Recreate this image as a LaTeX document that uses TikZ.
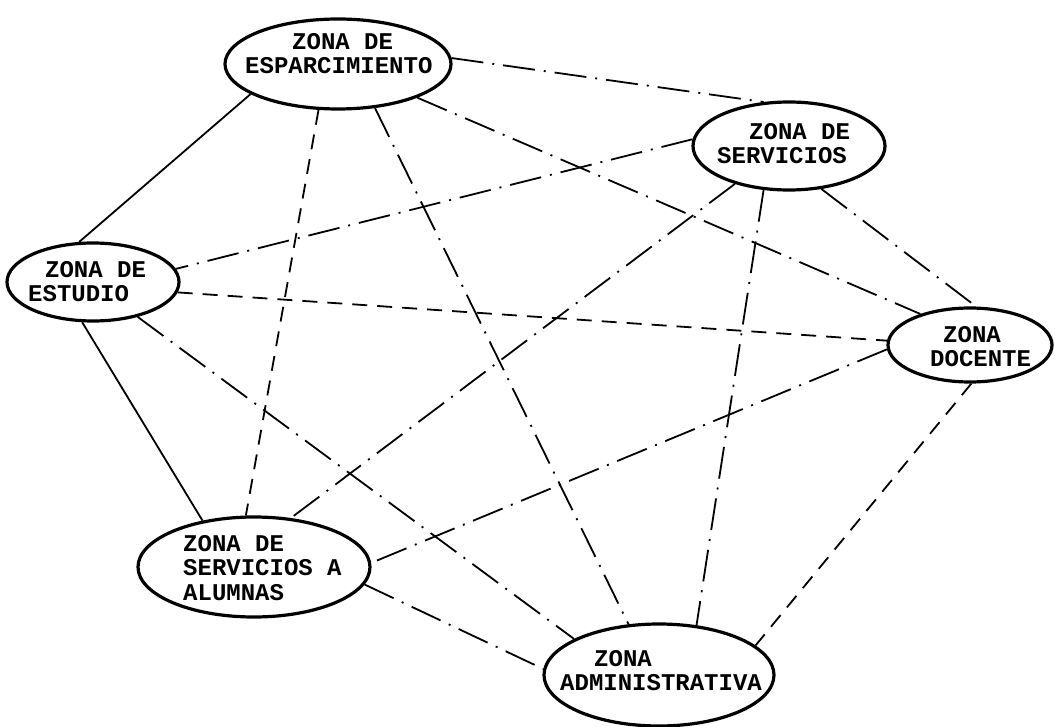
\documentclass[tikz,border=0pt]{standalone}
\usepackage{fontspec}
\setmonofont{Liberation Mono}
\usetikzlibrary{shapes.geometric}
\begin{document}
\begin{tikzpicture}[x=1pt,y=-1pt,
  zone/.style={draw, ellipse, line width=3.2pt, inner sep=0pt},
  lbl/.style={anchor=north west, inner sep=0pt, align=left,
    font=\ttfamily\bfseries\fontsize{24}{24.6}\selectfont},
  solidline/.style={line width=1.8pt},
  dashdot/.style={line width=1.8pt, dash pattern=on 32pt off 9pt on 2pt off 9pt},
  dashline/.style={line width=1.8pt, dash pattern=on 15pt off 10pt}]
\fill[white] (0,0) rectangle (1055,727);
\useasboundingbox (0,0) rectangle (1055,727);

% zones
\node[zone, minimum width=226pt, minimum height=90pt] (esp) at (338,64) {};
\node[zone, minimum width=192pt, minimum height=88pt] (ser) at (789,146) {};
\node[zone, minimum width=172pt, minimum height=78pt] (est) at (93,282) {};
\node[zone, minimum width=164pt, minimum height=74pt] (doc) at (970,345) {};
\node[zone, minimum width=232pt, minimum height=100pt] (alu) at (254,567) {};
\node[zone, minimum width=230pt, minimum height=102pt] (adm) at (659,675) {};

% labels
\node[lbl] (esp-t) at (245,33) {\hspace*{47pt}ZONA DE\\ESPARCIMIENTO};
\node[lbl] (ser-t) at (717,123) {\hspace*{32pt}ZONA DE\\SERVICIOS};
\node[lbl] (est-t) at (28,261) {\hspace*{17pt}ZONA DE\\ESTUDIO};
\node[lbl] (doc-t) at (930,326) {\hspace*{13pt}ZONA\\DOCENTE};
\node[lbl] (alu-t) at (183,535) {ZONA DE\\SERVICIOS A\\ALUMNAS};
\node[lbl] (adm-t) at (560,650) {\hspace*{34pt}ZONA\\ADMINISTRATIVA};

% connectors
\draw[solidline] (esp.199) -- (est.109);
\draw[dashdot]   (esp.3)   -- (ser.120);
\draw[dashline]  (esp.247) -- (alu.99);
\draw[dashdot]   (esp.310) -- (adm.121);
\draw[dashdot]   (esp.337) -- (doc.148);
\draw[dashdot]   (ser.176) -- (est.9);
\draw[dashdot]   (ser.215) -- (alu.53);
\draw[dashdot]   (ser.240) -- (adm.53);
\draw[dashdot]   (ser.307) -- (doc.81);
\draw[dashline]  (est.353) -- (doc.177);
\draw[solidline] (est.255) -- (alu.138);
\draw[dashdot]   (est.322) -- (adm.157);
\draw[dashdot]   (doc.183) -- (alu.2);
\draw[dashline]  (doc.272) -- (adm.17);
\draw[dashdot]   (alu.351) -- (adm.177);
\end{tikzpicture}
\end{document}
